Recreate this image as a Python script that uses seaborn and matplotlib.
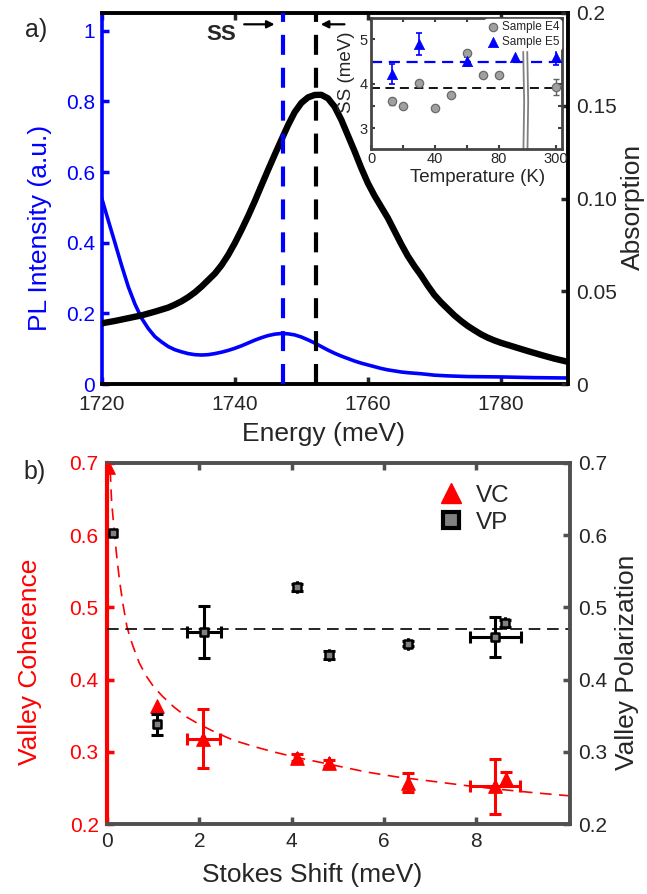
import numpy as np
import pandas as pd
import matplotlib
matplotlib.use("Agg")
import matplotlib.pyplot as plt
from matplotlib.lines import Line2D
import seaborn as sns

# panel a) spectra (read off the figure)
pl_energy = [1720, 1721, 1722, 1723, 1724, 1725, 1726, 1727, 1728, 1729, 1730, 1731, 1732, 1733,
             1734, 1735, 1736, 1737, 1738, 1739, 1740, 1741, 1742, 1743, 1744, 1745, 1746, 1747,
             1748, 1749, 1750, 1751, 1752, 1753, 1754, 1755, 1756, 1757, 1758, 1759, 1760, 1761,
             1762, 1763, 1764, 1765, 1766, 1768, 1770, 1772, 1775, 1780, 1785, 1790]
pl_intensity = [0.526, 0.462, 0.399, 0.335, 0.275, 0.226, 0.186, 0.157, 0.134, 0.119, 0.106,
                0.097, 0.091, 0.086, 0.083, 0.082, 0.083, 0.086, 0.090, 0.095, 0.101, 0.108,
                0.116, 0.124, 0.131, 0.137, 0.141, 0.143, 0.142, 0.139, 0.133, 0.125, 0.116,
                0.106, 0.096, 0.087, 0.079, 0.072, 0.065, 0.059, 0.054, 0.049, 0.044, 0.040,
                0.037, 0.034, 0.032, 0.029, 0.025, 0.023, 0.021, 0.020, 0.018, 0.017]
abs_energy = [1720, 1722, 1724, 1726, 1728, 1730, 1731, 1732, 1733, 1734, 1735, 1736, 1737,
              1738, 1739, 1740, 1741, 1742, 1743, 1744, 1745, 1746, 1747, 1748, 1749, 1750,
              1751, 1752, 1753, 1754, 1755, 1756, 1757, 1758, 1759, 1760, 1761, 1762, 1763,
              1764, 1765, 1766, 1767, 1768, 1769, 1770, 1771, 1772, 1773, 1774, 1775, 1776,
              1777, 1778, 1779, 1780, 1782, 1784, 1786, 1788, 1790]
absorption = [0.0327, 0.0340, 0.0355, 0.0370, 0.0390, 0.0412, 0.0428, 0.0446, 0.0468, 0.0494,
              0.0525, 0.0560, 0.0595, 0.0640, 0.0695, 0.0759, 0.0830, 0.0905, 0.0985, 0.1070,
              0.1154, 0.1236, 0.1316, 0.1395, 0.1465, 0.1515, 0.1545, 0.1558, 0.1559, 0.1540,
              0.1495, 0.1425, 0.1340, 0.1255, 0.1165, 0.1083, 0.1015, 0.0955, 0.0895, 0.0825,
              0.0755, 0.0690, 0.0635, 0.0585, 0.0530, 0.0480, 0.0440, 0.0405, 0.0370, 0.0340,
              0.0313, 0.0290, 0.0268, 0.0250, 0.0235, 0.0222, 0.0200, 0.0178, 0.0157, 0.0137,
              0.0120]
pl_peak = 1747.2
abs_peak = 1752.2

# inset: Stokes shift vs temperature
e4_temp = [13, 20, 30, 40, 50, 60, 70, 80, 300]
e4_ss = [3.61, 3.51, 4.01, 3.46, 3.76, 4.70, 4.20, 4.20, 3.92]
e4_err = [0.08, 0.03, 0.04, 0.03, 0.03, 0.03, 0.03, 0.03, 0.18]
e5_temp = [13, 30, 60, 90, 300]
e5_ss = [4.22, 4.89, 4.51, 4.60, 4.60]
e5_err = [0.23, 0.25, 0.10, 0.0, 0.17]
e4_mean = 3.90
e5_mean = 4.50
break_pos = 115.5  # where 300 K sits after the axis break
break_t = [96.4, 97.0, 96.5]
break_ss = [4.76, 3.6, 2.4]

# panel b) valley coherence / polarization vs Stokes shift
vc_shift = [0.03, 1.09, 2.09, 4.12, 4.80, 6.52, 8.41, 8.64]
vc = [0.695, 0.363, 0.318, 0.292, 0.284, 0.257, 0.252, 0.263]
vc_yerr = [0, 0, 0.041, 0.005, 0.004, 0.013, 0.038, 0.009]
vc_xerr = [0, 0, 0.36, 0, 0, 0, 0.54, 0]
vp_shift = [0.12, 1.09, 2.10, 4.11, 4.80, 6.52, 8.41, 8.62]
vp = [0.603, 0.338, 0.466, 0.528, 0.434, 0.450, 0.459, 0.478]
vp_yerr = [0, 0.015, 0.036, 0.005, 0.005, 0.003, 0.028, 0.005]
vp_xerr = [0, 0, 0.36, 0, 0, 0, 0.55, 0]
vp_mean = 0.47
fit_shift = [0.07, 0.10, 0.14, 0.17, 0.22, 0.28, 0.35, 0.43, 0.50, 0.57, 0.70, 0.86, 1.0, 1.2,
             1.45, 1.73, 2.0, 2.35, 2.74, 3.2, 3.6, 4.12, 4.8, 5.62, 6.3, 7.07, 7.8, 8.51, 9.3,
             10.03]
fit_vc = [0.690, 0.646, 0.618, 0.597, 0.565, 0.533, 0.503, 0.474, 0.458, 0.445, 0.423, 0.404,
          0.391, 0.377, 0.362, 0.348, 0.338, 0.327, 0.316, 0.307, 0.300, 0.292, 0.283, 0.272,
          0.265, 0.259, 0.253, 0.248, 0.243, 0.239]

sns.set_style("ticks")
plt.rcParams['font.family'] = ['Liberation Sans', 'DejaVu Sans']

BLUE = '#0000ff'
RED = '#ff0000'
GRAY = '#505050'

fig = plt.figure(figsize=(6.47, 8.94), dpi=100)
W, H = 647, 894

# ---------------- panel a ----------------
ax1 = fig.add_axes([101.7 / W, 1 - 384 / H, 465.8 / W, 371 / H])
ax2 = ax1.twinx()

sns.lineplot(x=pl_energy, y=pl_intensity, ax=ax1, color=BLUE, linewidth=2.6)
sns.lineplot(x=abs_energy, y=absorption, ax=ax2, color='black', linewidth=4.6)
ax2.axvline(pl_peak, color=BLUE, lw=3, dashes=(4.8, 3.1), zorder=4)
ax2.axvline(abs_peak, color='black', lw=3, dashes=(4.8, 3.1), zorder=4)

ax1.set_xlim(1720, 1790)
ax1.set_ylim(0, 1.05)
ax2.set_ylim(0, 0.2)
ax1.set_xticks([1720, 1740, 1760, 1780])
ax1.set_yticks([0, 0.2, 0.4, 0.6, 0.8, 1])
ax1.set_yticklabels(['0', '0.2', '0.4', '0.6', '0.8', '1'])
ax2.set_yticks([0, 0.05, 0.10, 0.15, 0.2])
ax2.set_yticklabels(['0', '0.05', '0.10', '0.15', '0.2'])

for s in ['top', 'bottom']:
    ax1.spines[s].set_color('black')
    ax1.spines[s].set_linewidth(2.8)
ax1.spines['left'].set_color(BLUE)
ax1.spines['left'].set_linewidth(2.6)
ax1.spines['right'].set_visible(False)
for s in ['left', 'top', 'bottom']:
    ax2.spines[s].set_visible(False)
ax2.spines['right'].set_color('black')
ax2.spines['right'].set_linewidth(2.8)

ax1.tick_params(axis='x', direction='in', top=True, length=5, width=2.5, labelsize=15, pad=8)
ax1.tick_params(axis='y', direction='in', color=BLUE, labelcolor=BLUE, length=5, width=2.5,
                labelsize=15, pad=5)
ax2.tick_params(axis='y', direction='in', length=5, width=2.5, labelsize=15, pad=6)

ax1.set_xlabel('Energy (meV)', fontsize=19)
ax1.set_ylabel('PL Intensity (a.u.)', fontsize=19, color=BLUE)
ax2.set_ylabel('Absorption', fontsize=19, rotation=90)
for lab in [ax1.xaxis.label, ax1.yaxis.label, ax2.yaxis.label]:
    lab.set_va('center')
    lab.set_ha('center')
ax1.xaxis.set_label_coords(0.477, -0.135)
ax1.yaxis.set_label_coords(-0.1325, 0.42)
ax2.yaxis.set_label_coords(1.14, 0.477)

ax1.text(1738.0, 0.99, 'SS', fontsize=16, fontweight='bold', ha='center', va='center')
ax1.annotate('', xy=(1746.4, 1.018), xytext=(1741.0, 1.018),
             arrowprops=dict(arrowstyle='-|>', color='black', lw=1.6, mutation_scale=11))
ax1.annotate('', xy=(1752.5, 1.018), xytext=(1756.9, 1.018),
             arrowprops=dict(arrowstyle='-|>', color='black', lw=1.6, mutation_scale=11))

# ---------------- inset ----------------
axi = fig.add_axes([371 / W, 1 - 149 / H, 191 / W, 131 / H], zorder=5)
axi.set_facecolor('white')
t4 = [break_pos if t > 100 else t for t in e4_temp]
t5 = [break_pos if t > 100 else t for t in e5_temp]
axi.axhline(e5_mean, color=BLUE, lw=1.6, dashes=(5, 3), zorder=1)
axi.axhline(e4_mean, color='black', lw=1.3, dashes=(5, 3), zorder=1)
axi.plot(break_t, break_ss, color='#808080', lw=4.2, zorder=2, solid_capstyle='butt')
axi.plot(break_t, break_ss, color='white', lw=1.6, zorder=2.1, solid_capstyle='butt')

e4 = pd.DataFrame({'T': t4, 'SS': e4_ss, 'err': e4_err})
e5 = pd.DataFrame({'T': t5, 'SS': e5_ss, 'err': e5_err})
e4e = e4[e4['err'] > 0]
e5e = e5[e5['err'] > 0]
axi.errorbar(e4e['T'], e4e['SS'], yerr=e4e['err'], fmt='none', ecolor='#606060',
             elinewidth=1.0, capsize=2, capthick=1.0, zorder=3)
axi.errorbar(e5e['T'], e5e['SS'], yerr=e5e['err'], fmt='none', ecolor=BLUE,
             elinewidth=1.2, capsize=2.2, capthick=1.2, zorder=3)
sns.scatterplot(data=e4, x='T', y='SS', ax=axi, marker='o', s=36, color='#a0a0a0',
                edgecolor='#6a6a6a', linewidth=0.9, zorder=4, label='Sample E4')
sns.scatterplot(data=e5, x='T', y='SS', ax=axi, marker='^', s=55, color=BLUE,
                edgecolor=BLUE, linewidth=0.5, zorder=4, label='Sample E5')

axi.set_xlim(0, 119.4)
axi.set_ylim(2.535, 5.48)
axi.set_xticks([0, 20, 40, 60, 80, break_pos])
axi.set_xticklabels(['0', '', '40', '', '80', '300'])
axi.set_yticks([3, 3.5, 4, 4.5, 5])
axi.set_yticklabels(['3', '', '4', '', '5'])
axi.tick_params(direction='in', top=True, right=True, length=3, width=1.5, labelsize=10.5,
                pad=2.5, color='#404040')
for s in axi.spines.values():
    s.set_color('#454545')
    s.set_linewidth(2)
axi.set_xlabel('Temperature (K)', fontsize=13.5)
axi.set_ylabel('SS (meV)', fontsize=13.5)
for lab in [axi.xaxis.label, axi.yaxis.label]:
    lab.set_va('center')
    lab.set_ha('center')
axi.xaxis.set_label_coords(0.56, -0.22)
axi.yaxis.set_label_coords(-0.126, 0.588)
leg_i = axi.legend(loc='upper right', fontsize=8.5, frameon=True, borderpad=0.15,
                   handletextpad=0.1, borderaxespad=0.1, labelspacing=0.25, handlelength=1.2)
leg_i.get_frame().set_edgecolor('white')
leg_i.get_frame().set_alpha(1)
leg_i.set_zorder(10)

# ---------------- panel b ----------------
ax3 = fig.add_axes([107 / W, 1 - 824 / H, 463 / W, 361 / H])
ax4 = ax3.twinx()

sns.lineplot(x=fit_shift, y=fit_vc, ax=ax3, color=RED, linewidth=1.2)
ax3.lines[-1].set_dashes((7, 4.5))
ax4.axhline(vp_mean, color='black', lw=1.2, dashes=(7, 4))

vcd = pd.DataFrame({'x': vc_shift, 'y': vc, 'xe': vc_xerr, 'ye': vc_yerr})
vpd = pd.DataFrame({'x': vp_shift, 'y': vp, 'xe': vp_xerr, 'ye': vp_yerr})
vce = vcd[(vcd['ye'] > 0) | (vcd['xe'] > 0)]
vpe = vpd[(vpd['ye'] > 0) | (vpd['xe'] > 0)]

ax3.errorbar(vce['x'], vce['y'], yerr=vce['ye'], xerr=vce['xe'], fmt='none', ecolor=RED,
             elinewidth=2.2, capsize=4, capthick=2.2, zorder=3)
sns.scatterplot(data=vcd, x='x', y='y', ax=ax3, marker='^', s=95, color=RED, edgecolor=RED,
                linewidth=0.8, zorder=4)
ax4.errorbar(vpe['x'], vpe['y'], yerr=vpe['ye'], xerr=vpe['xe'], fmt='none', ecolor='black',
             elinewidth=2.2, capsize=4, capthick=2.2, zorder=3)
sns.scatterplot(data=vpd, x='x', y='y', ax=ax4, marker='s', s=40, color='#808080',
                edgecolor='black', linewidth=1.8, zorder=4)

for a in [ax3, ax4]:
    a.set_xlim(0, 10.03)
    a.set_ylim(0.2, 0.7)
    a.set_yticks([0.2, 0.3, 0.4, 0.5, 0.6, 0.7])
ax3.set_yticklabels(['0.2', '0.3', '0.4', '0.5', '0.6', '0.7'])
ax4.set_yticklabels(['0.2', '0.3', '0.4', '0.5', '0.6', '0.7'])
ax3.set_xticks([0, 2, 4, 6, 8])

for s in ['top', 'bottom']:
    ax3.spines[s].set_color(GRAY)
    ax3.spines[s].set_linewidth(2.8)
ax3.spines['left'].set_color(RED)
ax3.spines['left'].set_linewidth(3)
ax3.spines['right'].set_visible(False)
for s in ['left', 'top', 'bottom']:
    ax4.spines[s].set_visible(False)
ax4.spines['right'].set_color(GRAY)
ax4.spines['right'].set_linewidth(2.8)

ax3.tick_params(axis='x', direction='in', top=True, color=GRAY, length=5, width=2.5,
                labelsize=15, pad=6)
ax3.tick_params(axis='y', direction='in', color=RED, labelcolor=RED, length=5, width=2.5,
                labelsize=15, pad=6)
ax4.tick_params(axis='y', direction='in', color=GRAY, length=5, width=2.5, labelsize=15, pad=6)

ax3.set_xlabel('Stokes Shift (meV)', fontsize=19)
ax3.set_ylabel('Valley Coherence', fontsize=19, color=RED)
ax4.set_ylabel('Valley Polarization', fontsize=19)
for lab in [ax3.xaxis.label, ax3.yaxis.label, ax4.yaxis.label]:
    lab.set_va('center')
    lab.set_ha('center')
ax3.xaxis.set_label_coords(0.443, -0.141)
ax3.yaxis.set_label_coords(-0.166, 0.449)
ax4.yaxis.set_label_coords(1.123, 0.449)

handles = [Line2D([], [], marker='^', color=RED, ls='none', markersize=15),
           Line2D([], [], marker='s', markerfacecolor='#808080', markeredgecolor='black',
                  markeredgewidth=3, ls='none', markersize=12)]
ax4.legend(handles, ['VC', 'VP'], loc='upper left', bbox_to_anchor=(0.665, 1.0),
           frameon=False, fontsize=17.5, handletextpad=0.4, labelspacing=0.2,
           handlelength=1.2)

fig.text(36 / W, 1 - 30 / H, 'a)', fontsize=18, ha='center', va='center')
fig.text(35 / W, 1 - 472 / H, 'b)', fontsize=18, ha='center', va='center')

fig.savefig('out.png', dpi=100)
